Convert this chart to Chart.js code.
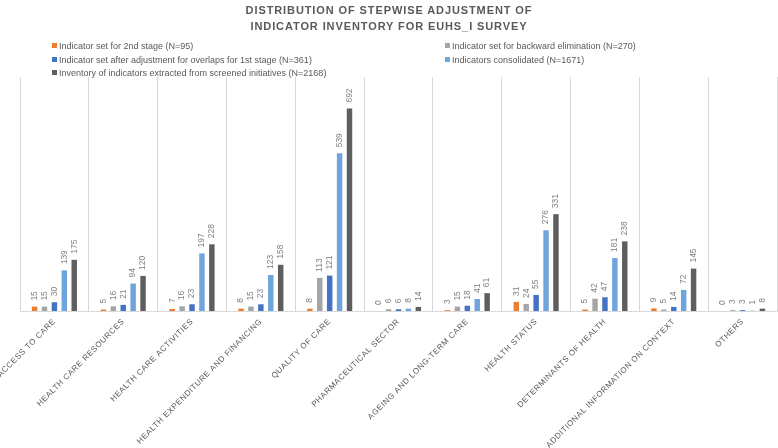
<!DOCTYPE html>
<html>
<head>
<meta charset="utf-8">
<script src="https://cdn.jsdelivr.net/npm/chart.js@4"></script>
<style>
  html, body { margin: 0; padding: 0; background: #fff; }
  #wrap { position: relative; width: 778px; height: 448px; font-family: "Liberation Sans", Arial, sans-serif; }
  #title { position: absolute; left: 0; top: 2px; width: 778px; text-align: center; color: #595959;
           font-weight: bold; font-size: 11px; letter-spacing: 0.9px; line-height: 16px; }
  .leg { position: absolute; font-size: 9px; color: #595959; white-space: nowrap; line-height: 10px; }
  .leg i { display: inline-block; width: 5px; height: 5px; margin-right: 2px; vertical-align: 1px; }
</style>
</head>
<body>
<div id="wrap">
  <div id="title">DISTRIBUTION OF STEPWISE ADJUSTMENT OF<br>INDICATOR INVENTORY FOR EUHS_I SURVEY</div>
  <div id="legend"></div>
  <canvas id="mainChart"></canvas>
</div>
<script>
// Categories and series
const categories = [
    'ACCESS TO CARE', 'HEALTH CARE RESOURCES', 'HEALTH CARE ACTIVITIES',
    'HEALTH EXPENDITURE AND FINANCING', 'QUALITY OF CARE', 'PHARMACEUTICAL SECTOR',
    'AGEING AND LONG-TERM CARE', 'HEALTH STATUS', 'DETERMINANTS OF HEALTH',
    'ADDITIONAL INFORMATION ON CONTEXT', 'OTHERS'
];
const seriesNames = [
    'Indicator set for 2nd stage (N=95)',
    'Indicator set for backward elimination (N=270)',
    'Indicator set after adjustment for overlaps for 1st stage (N=361)',
    'Indicators consolidated (N=1671)',
    'Inventory of indicators extracted from screened initiatives (N=2168)'
];
const secondStage  = [15, 5, 7, 8, 8, 0, 3, 31, 5, 9, 0];
const backwardElim = [15, 16, 16, 15, 113, 6, 15, 24, 42, 5, 3];
const firstStage   = [30, 21, 23, 23, 121, 6, 18, 55, 47, 14, 3];
const consolidated = [139, 94, 197, 123, 539, 8, 41, 276, 181, 72, 1];
const inventory    = [175, 120, 228, 158, 692, 14, 61, 331, 238, 145, 8];
const colors = ['#ED7D31', '#A5A5A5', '#4472C4', '#6FA5DC', '#5E5E5E'];

// Legend (two columns, row by row)
const legendBox = document.getElementById('legend');
seriesNames.forEach((name, i) => {
    const div = document.createElement('div');
    div.className = 'leg';
    div.style.left = (i % 2 === 0 ? 52 : 445) + 'px';
    div.style.top = (41 + Math.floor(i / 2) * 13.5) + 'px';
    div.innerHTML = `<i style="background:${colors[i]}"></i>${name}`;
    legendBox.appendChild(div);
});

// Letter spacing for axis text
const spacing = {
    id: 'spacing',
    beforeUpdate(chart) { chart.ctx.letterSpacing = '0.55px'; },
    beforeDraw(chart) { chart.ctx.letterSpacing = '0.55px'; }
};

// Rotated value labels above bars
const valueLabels = {
    id: 'valueLabels',
    afterDatasetsDraw(chart) {
        const ctx = chart.ctx;
        chart.data.datasets.forEach((ds, i) => {
            chart.getDatasetMeta(i).data.forEach((bar, j) => {
                ctx.save();
                ctx.letterSpacing = '0px';
                ctx.translate(bar.x, bar.y - 6);
                ctx.rotate(-Math.PI / 2);
                ctx.font = '8.5px "Liberation Sans", Arial, sans-serif';
                ctx.fillStyle = '#808080';
                ctx.textAlign = 'left';
                ctx.textBaseline = 'middle';
                ctx.fillText(String(ds.data[j]), 0, 0);
                ctx.restore();
            });
        });
    }
};

const seriesData = [secondStage, backwardElim, firstStage, consolidated, inventory];

new Chart(document.getElementById('mainChart').getContext('2d'), {
    type: 'bar',
    data: {
        labels: categories,
        datasets: seriesData.map((d, i) => ({
            label: seriesNames[i],
            data: d,
            backgroundColor: colors[i],
            categoryPercentage: 0.72,
            barPercentage: 0.55
        }))
    },
    options: {
        responsive: true,
        maintainAspectRatio: false,
        animation: false,
        layout: { padding: { top: 77, left: 20, right: 1, bottom: 0 } },
        plugins: {
            legend: { display: false },
            tooltip: { enabled: false }
        },
        scales: {
            x: {
                grid: { offset: true, color: '#d9d9d9', drawTicks: false },
                border: { color: '#d9d9d9' },
                ticks: {
                    autoSkip: false,
                    minRotation: 45,
                    maxRotation: 45,
                    padding: 6,
                    color: '#595959',
                    font: { family: '"Liberation Sans", Arial, sans-serif', size: 8 }
                },
                afterFit(scale) {
                    scale.height = 137;
                    scale.paddingLeft = 0;
                    scale.paddingRight = 0;
                }
            },
            y: {
                display: false,
                min: 0,
                max: 800
            }
        }
    },
    plugins: [spacing, valueLabels]
});
</script>
</body>
</html>
